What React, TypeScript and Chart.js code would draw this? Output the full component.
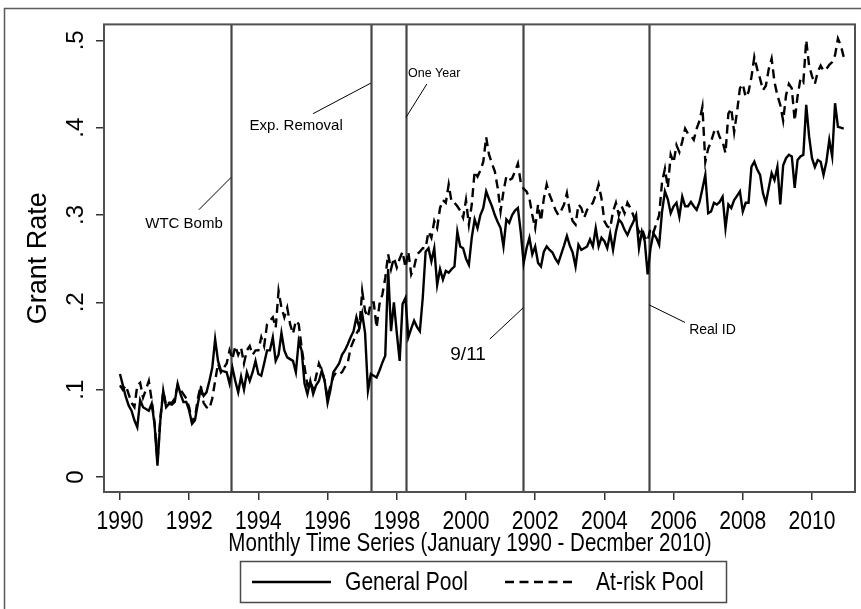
import React, { useEffect, useRef } from 'react';
import { Chart, registerables } from 'chart.js';

Chart.register(...registerables);

// ---------------- data ----------------
const START_YEAR = 1990; // monthly series, January 1990 onward

const generalPool = [
  // 1990
  0.118, 0.105, 0.092, 0.082, 0.076, 0.065, 0.057, 0.088, 0.080, 0.078, 0.076, 0.084,
  // 1991
  0.060, 0.013, 0.065, 0.099, 0.080, 0.084, 0.083, 0.086, 0.107, 0.095, 0.086, 0.086,
  // 1992
  0.076, 0.061, 0.065, 0.084, 0.101, 0.093, 0.097, 0.110, 0.125, 0.158, 0.133, 0.122,
  // 1993
  0.121, 0.120, 0.107, 0.125, 0.110, 0.097, 0.115, 0.100, 0.120, 0.110, 0.120, 0.133,
  // 1994
  0.118, 0.116, 0.130, 0.145, 0.145, 0.160, 0.133, 0.140, 0.165, 0.145, 0.137, 0.135,
  // 1995
  0.133, 0.120, 0.156, 0.145, 0.107, 0.095, 0.110, 0.095, 0.105, 0.110, 0.122, 0.110,
  // 1996
  0.085, 0.100, 0.120, 0.125, 0.130, 0.140, 0.145, 0.152, 0.160, 0.167, 0.183, 0.171,
  // 1997
  0.187, 0.165, 0.099, 0.118, 0.116, 0.114, 0.122, 0.131, 0.139, 0.238, 0.167, 0.200,
  // 1998
  0.165, 0.133, 0.198, 0.205, 0.160, 0.170, 0.179, 0.172, 0.167, 0.205, 0.258, 0.262,
  // 1999
  0.247, 0.262, 0.220, 0.238, 0.226, 0.236, 0.234, 0.238, 0.241, 0.281, 0.264, 0.262,
  // 2000
  0.250, 0.243, 0.274, 0.295, 0.285, 0.300, 0.308, 0.327, 0.318, 0.310, 0.300, 0.292,
  // 2001
  0.285, 0.264, 0.295, 0.291, 0.300, 0.305, 0.308, 0.280, 0.245, 0.262, 0.274, 0.255,
  // 2002
  0.264, 0.245, 0.241, 0.258, 0.264, 0.260, 0.257, 0.250, 0.245, 0.255, 0.265, 0.276,
  // 2003
  0.265, 0.257, 0.241, 0.266, 0.260, 0.262, 0.264, 0.272, 0.264, 0.285, 0.264, 0.274,
  // 2004
  0.270, 0.262, 0.279, 0.260, 0.281, 0.295, 0.291, 0.283, 0.277, 0.285, 0.292, 0.300,
  // 2005
  0.262, 0.281, 0.270, 0.232, 0.262, 0.279, 0.274, 0.266, 0.304, 0.327, 0.318, 0.302,
  // 2006
  0.310, 0.314, 0.298, 0.321, 0.310, 0.310, 0.315, 0.310, 0.306, 0.315, 0.330, 0.346,
  // 2007
  0.302, 0.304, 0.314, 0.312, 0.315, 0.321, 0.285, 0.312, 0.308, 0.317, 0.322, 0.327,
  // 2008
  0.304, 0.314, 0.314, 0.355, 0.361, 0.352, 0.346, 0.325, 0.314, 0.331, 0.348, 0.340,
  // 2009
  0.355, 0.312, 0.357, 0.365, 0.369, 0.367, 0.331, 0.363, 0.367, 0.369, 0.426, 0.390,
  // 2010
  0.365, 0.355, 0.363, 0.361, 0.346, 0.361, 0.386, 0.367, 0.428, 0.401, 0.400, 0.399,
];

const atRiskPool = [
  // 1990
  0.105, 0.100, 0.105, 0.095, 0.085, 0.080, 0.105, 0.108, 0.091, 0.100, 0.110, 0.088,
  // 1991
  0.062, 0.018, 0.068, 0.098, 0.082, 0.085, 0.085, 0.090, 0.105, 0.100, 0.095, 0.090,
  // 1992
  0.080, 0.063, 0.068, 0.090, 0.105, 0.085, 0.080, 0.078, 0.090, 0.110, 0.130, 0.120,
  // 1993
  0.125, 0.130, 0.145, 0.135, 0.150, 0.140, 0.148, 0.130, 0.145, 0.150, 0.140, 0.145,
  // 1994
  0.145, 0.160, 0.150, 0.175, 0.179, 0.183, 0.171, 0.213, 0.194, 0.183, 0.194, 0.175,
  // 1995
  0.164, 0.179, 0.175, 0.148, 0.126, 0.105, 0.110, 0.100, 0.115, 0.130, 0.122, 0.110,
  // 1996
  0.090, 0.105, 0.115, 0.120, 0.118, 0.120, 0.126, 0.131, 0.148, 0.156, 0.164, 0.170,
  // 1997
  0.213, 0.190, 0.183, 0.200, 0.200, 0.171, 0.198, 0.209, 0.228, 0.255, 0.238, 0.251,
  // 1998
  0.240, 0.250, 0.258, 0.240, 0.258, 0.232, 0.240, 0.255, 0.258, 0.262, 0.262, 0.281,
  // 1999
  0.274, 0.293, 0.285, 0.308, 0.317, 0.314, 0.335, 0.315, 0.314, 0.310, 0.305, 0.297,
  // 2000
  0.317, 0.289, 0.312, 0.350, 0.344, 0.351, 0.361, 0.389, 0.369, 0.359, 0.350, 0.331,
  // 2001
  0.304, 0.327, 0.344, 0.340, 0.342, 0.350, 0.359, 0.337, 0.330, 0.327, 0.319, 0.300,
  // 2002
  0.285, 0.312, 0.293, 0.319, 0.335, 0.323, 0.315, 0.306, 0.300, 0.305, 0.312, 0.325,
  // 2003
  0.304, 0.293, 0.289, 0.312, 0.308, 0.297, 0.306, 0.310, 0.314, 0.323, 0.335, 0.319,
  // 2004
  0.293, 0.287, 0.285, 0.304, 0.314, 0.300, 0.310, 0.302, 0.314, 0.308, 0.300, 0.290,
  // 2005
  0.280, 0.285, 0.275, 0.270, 0.285, 0.280, 0.290, 0.300, 0.338, 0.353, 0.331, 0.369,
  // 2006
  0.360, 0.380, 0.372, 0.384, 0.399, 0.393, 0.391, 0.386, 0.399, 0.408, 0.424, 0.361,
  // 2007
  0.376, 0.384, 0.395, 0.399, 0.389, 0.384, 0.371, 0.416, 0.422, 0.395, 0.418, 0.445,
  // 2008
  0.450, 0.435, 0.441, 0.458, 0.481, 0.467, 0.456, 0.443, 0.448, 0.467, 0.479, 0.452,
  // 2009
  0.437, 0.426, 0.408, 0.437, 0.450, 0.445, 0.408, 0.436, 0.456, 0.452, 0.500, 0.471,
  // 2010
  0.459, 0.450, 0.464, 0.471, 0.465, 0.467, 0.472, 0.475, 0.483, 0.502, 0.494, 0.481,
];

const seriesNames = ['General Pool', 'At-risk Pool'];
const xTickYears = [1990, 1992, 1994, 1996, 1998, 2000, 2002, 2004, 2006, 2008, 2010];
const yTickValues = [0, 0.1, 0.2, 0.3, 0.4, 0.5];
const yTickLabels = ['0', '.1', '.2', '.3', '.4', '.5'];
const xTitle = 'Monthly Time Series (January 1990 - Decmber 2010)';
const yTitle = 'Grant Rate';

// policy events (fractional year)
const eventNames = ['WTC Bomb', 'Exp. Removal', 'One Year', '9/11', 'Real ID'];
const eventDates = [1993.21, 1997.25, 1998.27, 2001.66, 2005.3];

// ---------------- layout / style ----------------
const FONT = '"Liberation Sans", Arial, Helvetica, sans-serif';
const AXIS_FONT_SIZE = 26;
const NARROW = 0.81; // horizontal squeeze to mimic the narrow Stata face

// annotation placement in data coordinates
const annotationLayout = [
  { tx: 1991.85, ty: 0.29, size: 15, align: 'center', lx: 1992.28, ly: 0.306, ey: 0.343 },
  { tx: 1995.09, ty: 0.402, size: 15, align: 'center', lx: 1995.58, ly: 0.416, ey: 0.451 },
  { tx: 1999.08, ty: 0.462, size: 12.5, align: 'center', lx: 1998.87, ly: 0.45, ey: 0.412 },
  { tx: 2000.06, ty: 0.14, size: 19, align: 'center', lx: 2000.69, ly: 0.158, ey: 0.194 },
  { tx: 2006.45, ty: 0.168, size: 14, align: 'left', lx: 2006.33, ly: 0.177, ey: 0.197 },
];

function narrowText(
  ctx: CanvasRenderingContext2D,
  text: string,
  cx: number,
  cy: number,
  align: CanvasTextAlign,
  squeeze: number = NARROW
) {
  ctx.save();
  ctx.translate(cx, cy);
  ctx.scale(squeeze, 1);
  ctx.textAlign = align;
  ctx.textBaseline = 'middle';
  ctx.fillText(text, 0, 0);
  ctx.restore();
}

const decorPlugin = {
  id: 'stataDecor',
  beforeDatasetsDraw(chart: any) {
    const { ctx, chartArea, scales } = chart;
    const x = scales.x;
    ctx.save();
    ctx.strokeStyle = '#454545';
    ctx.lineWidth = 2.2;
    eventDates.forEach((d) => {
      const px = Math.round(x.getPixelForValue(d)) + 0.5;
      ctx.beginPath();
      ctx.moveTo(px, chartArea.top);
      ctx.lineTo(px, chartArea.bottom);
      ctx.stroke();
    });
    ctx.restore();
  },
  afterDraw(chart: any) {
    const { ctx, chartArea, scales } = chart;
    const x = scales.x;
    const y = scales.y;
    ctx.save();

    // outer graph frame (cropped on the right and bottom)
    ctx.strokeStyle = '#5a5a5a';
    ctx.lineWidth = 1.5;
    ctx.strokeRect(4.5, 8.5, 950, 700);

    // plot region box
    ctx.strokeStyle = '#505050';
    ctx.lineWidth = 2;
    ctx.strokeRect(
      chartArea.left,
      chartArea.top,
      chartArea.right - chartArea.left,
      chartArea.bottom - chartArea.top
    );

    // x tick labels and x title (narrow face)
    ctx.fillStyle = '#000';
    ctx.font = `${AXIS_FONT_SIZE}px ${FONT}`;
    x.ticks.forEach((t: any, i: number) => {
      narrowText(ctx, String(xTickYears[i]), x.getPixelForValue(t.value), 522, 'center');
    });
    narrowText(ctx, xTitle, 470, 544, 'center', 0.79);

    // annotations
    ctx.strokeStyle = '#000';
    ctx.lineWidth = 1;
    annotationLayout.forEach((a, i) => {
      ctx.beginPath();
      ctx.moveTo(x.getPixelForValue(a.lx), y.getPixelForValue(a.ly));
      ctx.lineTo(x.getPixelForValue(eventDates[i]), y.getPixelForValue(a.ey));
      ctx.stroke();
      ctx.font = `${a.size}px ${FONT}`;
      ctx.textAlign = a.align as CanvasTextAlign;
      ctx.textBaseline = 'middle';
      ctx.fillText(eventNames[i], x.getPixelForValue(a.tx), y.getPixelForValue(a.ty));
    });

    // legend
    const box = { left: 240.5, top: 561.5, width: 486, height: 41 };
    const cy = box.top + box.height / 2;
    ctx.strokeStyle = '#4a4a4a';
    ctx.lineWidth = 1.5;
    ctx.strokeRect(box.left, box.top, box.width, box.height);

    ctx.strokeStyle = '#000';
    ctx.lineWidth = 2.4;
    ctx.beginPath();
    ctx.moveTo(252, cy);
    ctx.lineTo(331, cy);
    ctx.stroke();

    ctx.setLineDash([9, 5.5]);
    ctx.beginPath();
    ctx.moveTo(505, cy);
    ctx.lineTo(572, cy);
    ctx.stroke();
    ctx.setLineDash([]);

    ctx.font = `${AXIS_FONT_SIZE}px ${FONT}`;
    narrowText(ctx, seriesNames[0], 345, cy + 1, 'left');
    narrowText(ctx, seriesNames[1], 596, cy + 1, 'left');

    ctx.restore();
  },
};

export default function App() {
  const canvasRef = useRef<HTMLCanvasElement | null>(null);

  useEffect(() => {
    const canvas = canvasRef.current;
    if (!canvas) return;

    const toPoints = (vals: number[]) =>
      vals.map((v, i) => ({ x: START_YEAR + i / 12, y: v }));

    const tickFont = { family: FONT, size: 24 };
    const titleFont = { family: FONT, size: 27 };

    const chart = new Chart(canvas, {
      type: 'line',
      data: {
        datasets: [
          {
            label: seriesNames[0],
            data: toPoints(generalPool),
            borderColor: '#000',
            borderWidth: 2.4,
            pointRadius: 0,
            tension: 0,
            fill: false,
          },
          {
            label: seriesNames[1],
            data: toPoints(atRiskPool),
            borderColor: '#000',
            borderWidth: 2.4,
            borderDash: [9, 5.5],
            pointRadius: 0,
            tension: 0,
            fill: false,
          },
        ],
      },
      options: {
        responsive: false,
        animation: false,
        events: [],
        layout: { padding: { left: 20, top: 22, right: 6, bottom: 609 - 492 - 64 } },
        plugins: {
          legend: { display: false },
          tooltip: { enabled: false },
          title: { display: false },
        },
        scales: {
          x: {
            type: 'linear',
            min: 1989.538,
            max: 2011.243,
            afterBuildTicks: (s: any) => {
              s.ticks = xTickYears.map((v) => ({ value: v }));
            },
            afterFit: (s: any) => {
              s.height = 64;
            },
            ticks: {
              display: false,
              autoSkip: false,
            },
            grid: {
              display: true,
              drawOnChartArea: false,
              drawTicks: true,
              tickLength: 8,
              color: '#333',
              lineWidth: 1.5,
            },
            border: { display: false },
            title: { display: false },
          },
          y: {
            type: 'linear',
            min: -0.0171,
            max: 0.5182,
            afterBuildTicks: (s: any) => {
              s.ticks = yTickValues.map((v) => ({ value: v }));
            },
            afterFit: (s: any) => {
              s.width = 84;
            },
            ticks: {
              callback: (_v: any, i: number) => yTickLabels[i],
              font: tickFont,
              color: '#000',
              padding: 10,
              minRotation: 90,
              maxRotation: 90,
              crossAlign: 'center',
            },
            grid: {
              display: true,
              drawOnChartArea: false,
              drawTicks: true,
              tickLength: 8,
              color: '#333',
              lineWidth: 1.5,
            },
            border: { display: false },
            title: {
              display: true,
              text: yTitle,
              font: titleFont,
              color: '#000',
              padding: { top: 2, bottom: 0 },
            },
          },
        },
      } as any,
      plugins: [decorPlugin],
    });

    return () => {
      chart.destroy();
    };
  }, []);

  return (
    <canvas
      ref={canvasRef}
      width={861}
      height={609}
      style={{ position: 'absolute', left: 0, top: 0, display: 'block' }}
    />
  );
}
